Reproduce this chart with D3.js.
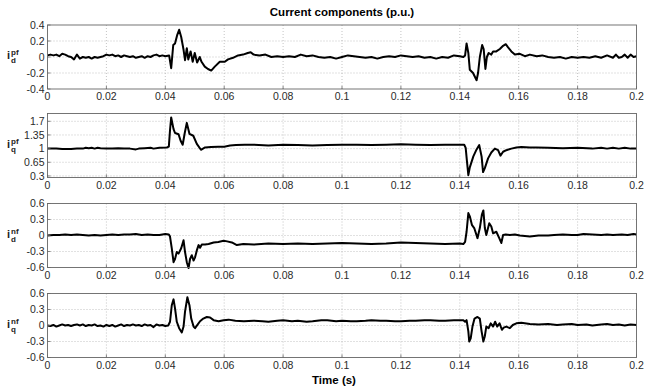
<!DOCTYPE html>
<html lang="en">
<head>
<meta charset="UTF-8">
<title>Current components (p.u.)</title>
<script src="https://d3js.org/d3.v7.min.js"></script>
<style>
  body { margin: 0; background: #fff; font-family: 'Liberation Sans', Arial, sans-serif; }
  .tick-label { font-size: 10.5px; fill: #2a2a2a; }
  .grid line { stroke: #aaa; stroke-width: 0.7; stroke-dasharray: 1,2; }
  .trace { fill: none; stroke: #000; stroke-width: 2; stroke-linejoin: round; }
</style>
</head>
<body>
<svg width="647" height="389"></svg>
<script>
  // time ticks shared by all panels
  const xTicks = [0, 0.02, 0.04, 0.06, 0.08, 0.1, 0.12, 0.14, 0.16, 0.18, 0.2];
  const xTickLabels = ["0", "0.02", "0.04", "0.06", "0.08", "0.1", "0.12", "0.14", "0.16", "0.18", "0.2"];

  // [time, value]
  const idPf = [
    [0,0.02],[0.001,0.03],[0.002,0.02],[0.003,0.03],[0.004,0.01],[0.005,0.04],[0.006,0.03],[0.007,0.01],
    [0.008,0.0],[0.009,-0.03],[0.010,0.03],[0.011,-0.02],[0.012,0.0],[0.013,-0.01],[0.014,0.0],[0.015,-0.02],
    [0.016,0.0],[0.017,-0.01],[0.018,0.0],[0.019,0.01],[0.020,0.03],[0.021,0.02],[0.022,0.03],[0.023,0.01],
    [0.024,0.02],[0.025,0.0],[0.026,0.02],[0.027,0.01],[0.028,0.0],[0.029,0.01],[0.030,-0.01],[0.031,0.0],
    [0.032,0.01],[0.033,-0.01],[0.034,0.01],[0.035,0.0],[0.036,0.02],[0.037,0.03],[0.038,0.01],[0.039,0.02],
    [0.040,0.01],[0.0413,0.02],[0.0420,-0.14],[0.0427,0.15],[0.0433,0.17],[0.044,0.27],[0.0447,0.34],
    [0.0454,0.25],[0.0462,0.09],[0.0467,-0.04],[0.0473,0.11],[0.0478,-0.03],[0.0486,0.07],[0.0493,-0.06],
    [0.050,0.05],[0.0508,-0.07],[0.0517,0.0],[0.0523,-0.06],[0.0534,-0.12],[0.0545,-0.15],[0.0556,-0.17],
    [0.0568,-0.12],[0.0585,-0.06],[0.0602,-0.06],[0.0613,-0.03],[0.063,-0.01],[0.0647,0.02],[0.0664,0.03],
    [0.068,0.05],[0.069,0.06],[0.070,0.03],[0.072,0.02],[0.074,0.03],[0.076,0.0],[0.078,0.01],[0.080,0.0],
    [0.082,0.01],[0.084,0.0],[0.086,0.03],[0.088,0.01],[0.090,0.02],[0.092,0.0],[0.094,-0.01],[0.096,0.0],
    [0.098,-0.02],[0.100,0.0],[0.102,0.02],[0.104,0.01],[0.106,0.0],[0.108,-0.01],[0.110,0.0],[0.112,-0.02],
    [0.114,0.0],[0.116,0.01],[0.118,0.0],[0.120,0.02],[0.122,0.01],[0.124,0.0],[0.126,0.01],[0.128,-0.01],
    [0.130,0.0],[0.132,-0.02],[0.134,0.0],[0.136,-0.01],[0.138,0.02],[0.140,0.01],[0.1412,0.0],[0.1418,0.02],
    [0.1423,0.17],[0.1429,0.05],[0.1434,-0.16],[0.1445,-0.2],[0.1457,-0.29],[0.1462,-0.2],[0.1468,0.0],
    [0.1476,0.15],[0.1481,0.1],[0.1487,-0.15],[0.1492,0.0],[0.1498,0.05],[0.1507,0.03],[0.1513,0.07],
    [0.1524,0.07],[0.1536,0.1],[0.1547,0.14],[0.1556,0.16],[0.1564,0.12],[0.1575,0.07],[0.1587,0.03],
    [0.1604,0.04],[0.1621,0.01],[0.1638,0.03],[0.1661,0.01],[0.168,0.02],[0.170,0.0],[0.172,-0.01],
    [0.174,0.0],[0.176,-0.02],[0.178,0.0],[0.180,-0.01],[0.182,0.0],[0.184,-0.01],[0.186,0.01],[0.188,-0.01],
    [0.190,0.02],[0.192,-0.01],[0.193,0.03],[0.194,-0.01],[0.195,0.0],[0.196,0.03],[0.197,-0.01],
    [0.198,0.03],[0.199,0.0],[0.200,0.01]
  ];

  const iqPf = [
    [0,1.0],[0.003,1.0],[0.005,0.99],[0.008,0.99],[0.010,1.0],[0.012,1.0],[0.013,1.02],[0.014,1.01],
    [0.015,1.02],[0.016,1.0],[0.017,1.02],[0.018,1.01],[0.020,1.0],[0.022,1.0],[0.024,1.01],[0.026,1.0],
    [0.028,1.0],[0.030,0.98],[0.031,1.0],[0.033,1.01],[0.035,1.02],[0.036,1.0],[0.038,1.02],[0.0405,1.03],
    [0.0412,1.05],[0.0416,1.47],[0.0420,1.80],[0.0428,1.5],[0.0433,1.4],[0.0445,1.37],[0.0452,1.2],
    [0.0459,1.1],[0.0466,1.4],[0.0473,1.66],[0.0482,1.38],[0.0495,1.33],[0.0507,1.12],[0.0521,0.97],
    [0.0535,1.03],[0.0555,1.04],[0.058,1.05],[0.060,1.05],[0.062,1.08],[0.064,1.09],[0.067,1.1],
    [0.070,1.1],[0.075,1.08],[0.080,1.1],[0.085,1.09],[0.090,1.08],[0.095,1.09],[0.100,1.1],[0.105,1.1],
    [0.110,1.09],[0.115,1.1],[0.120,1.11],[0.125,1.1],[0.130,1.09],[0.135,1.1],[0.140,1.1],[0.1415,1.1],
    [0.1420,1.02],[0.1424,0.7],[0.1429,0.32],[0.1434,0.52],[0.1446,0.8],[0.1457,0.98],[0.1466,1.09],
    [0.1474,0.8],[0.1479,0.4],[0.1485,0.5],[0.1496,0.75],[0.1507,0.9],[0.1519,1.0],[0.153,0.96],
    [0.1538,0.82],[0.1547,0.92],[0.1558,0.96],[0.1575,1.0],[0.1592,1.03],[0.1609,1.04],[0.1638,1.03],
    [0.166,1.03],[0.170,1.02],[0.175,1.01],[0.180,1.02],[0.185,1.0],[0.188,1.02],[0.190,1.0],[0.192,1.02],
    [0.194,1.0],[0.196,1.02],[0.198,1.0],[0.200,1.0]
  ];

  const idNf = [
    [0,0.0],[0.002,0.01],[0.004,0.01],[0.006,0.02],[0.008,0.01],[0.010,0.02],[0.012,0.01],[0.014,0.0],
    [0.016,0.01],[0.018,0.0],[0.020,0.01],[0.022,0.02],[0.024,0.01],[0.026,0.02],[0.028,0.02],[0.030,0.03],
    [0.032,0.01],[0.034,0.02],[0.036,0.01],[0.038,0.01],[0.040,0.03],[0.0412,0.02],[0.0416,-0.02],
    [0.0422,-0.24],[0.0428,-0.5],[0.0433,-0.44],[0.0439,-0.31],[0.0445,-0.34],[0.0454,-0.24],[0.0462,-0.09],
    [0.0467,-0.31],[0.0473,-0.5],[0.0479,-0.61],[0.0484,-0.44],[0.0490,-0.37],[0.0496,-0.47],[0.0501,-0.41],
    [0.0507,-0.28],[0.0513,-0.18],[0.0518,-0.23],[0.0524,-0.17],[0.0535,-0.17],[0.0547,-0.16],[0.0564,-0.13],
    [0.058,-0.12],[0.0598,-0.1],[0.061,-0.11],[0.0626,-0.13],[0.0643,-0.18],[0.0665,-0.16],[0.070,-0.17],
    [0.075,-0.15],[0.080,-0.16],[0.085,-0.15],[0.090,-0.16],[0.095,-0.15],[0.100,-0.14],[0.105,-0.15],
    [0.110,-0.16],[0.115,-0.15],[0.120,-0.13],[0.125,-0.14],[0.130,-0.15],[0.135,-0.16],[0.140,-0.15],
    [0.1412,-0.16],[0.1418,-0.12],[0.1423,0.07],[0.1429,0.42],[0.1434,0.36],[0.1441,0.2],[0.1449,0.14],
    [0.146,-0.05],[0.1468,0.14],[0.1475,0.39],[0.148,0.47],[0.1485,0.14],[0.149,0.01],[0.150,0.23],
    [0.1507,0.17],[0.1513,0.04],[0.1524,0.07],[0.1534,-0.05],[0.1541,-0.14],[0.1547,0.01],[0.1556,0.02],
    [0.157,0.01],[0.1587,0.02],[0.1604,0.0],[0.1638,-0.02],[0.1667,0.0],[0.170,0.0],[0.172,0.01],
    [0.175,0.02],[0.178,0.01],[0.180,0.01],[0.182,0.03],[0.185,0.02],[0.188,0.01],[0.190,0.02],
    [0.192,0.01],[0.195,0.02],[0.197,0.01],[0.199,0.03],[0.200,0.02]
  ];

  const iqNf = [
    [0,0.0],[0.001,-0.01],[0.002,0.01],[0.003,-0.02],[0.004,0.0],[0.005,0.02],[0.006,0.0],[0.007,0.01],
    [0.008,-0.01],[0.009,0.01],[0.010,0.02],[0.011,0.0],[0.012,0.02],[0.013,-0.01],[0.014,0.01],[0.015,0.0],
    [0.016,0.02],[0.017,-0.01],[0.018,0.0],[0.019,-0.02],[0.020,0.01],[0.021,-0.01],[0.022,0.01],
    [0.023,-0.02],[0.024,0.0],[0.025,0.02],[0.026,-0.01],[0.027,0.01],[0.028,0.0],[0.029,0.02],[0.030,0.0],
    [0.031,0.01],[0.032,-0.01],[0.033,0.02],[0.034,0.0],[0.035,0.01],[0.036,-0.03],[0.037,0.02],
    [0.038,0.0],[0.039,0.01],[0.040,-0.01],[0.041,0.0],[0.0416,0.07],[0.0422,0.38],[0.0428,0.49],
    [0.0433,0.32],[0.0439,0.07],[0.0447,-0.05],[0.0456,-0.13],[0.0462,-0.02],[0.0467,0.26],[0.0475,0.53],
    [0.0482,0.38],[0.0488,0.13],[0.0496,-0.02],[0.0501,-0.05],[0.0509,0.01],[0.0518,0.08],[0.0529,0.13],
    [0.0541,0.16],[0.0552,0.15],[0.0564,0.1],[0.0581,0.08],[0.0598,0.1],[0.0615,0.11],[0.0638,0.09],
    [0.0667,0.08],[0.070,0.09],[0.073,0.08],[0.075,0.07],[0.078,0.09],[0.080,0.1],[0.083,0.08],[0.085,0.09],
    [0.088,0.07],[0.090,0.08],[0.093,0.1],[0.095,0.1],[0.098,0.08],[0.100,0.09],[0.103,0.08],[0.105,0.08],
    [0.108,0.09],[0.110,0.1],[0.113,0.09],[0.115,0.09],[0.118,0.08],[0.120,0.08],[0.123,0.09],[0.125,0.09],
    [0.128,0.1],[0.130,0.1],[0.133,0.09],[0.135,0.09],[0.138,0.1],[0.1412,0.1],[0.1418,0.07],[0.1423,0.1],
    [0.1429,-0.11],[0.1432,-0.3],[0.1437,-0.24],[0.1443,-0.02],[0.145,0.13],[0.146,0.16],[0.1468,0.13],
    [0.1474,-0.11],[0.148,-0.3],[0.1485,-0.2],[0.149,-0.02],[0.1498,-0.05],[0.1505,0.04],[0.1513,-0.02],
    [0.152,0.07],[0.1527,-0.02],[0.1535,0.04],[0.1543,-0.08],[0.1549,-0.04],[0.1558,-0.02],[0.157,-0.05],
    [0.158,0.01],[0.1592,0.04],[0.1609,0.05],[0.1638,0.03],[0.1667,0.02],[0.170,0.03],[0.173,0.01],
    [0.175,0.02],[0.178,0.03],[0.180,0.01],[0.183,0.02],[0.185,0.0],[0.188,0.02],[0.190,0.03],[0.192,0.01],
    [0.194,0.02],[0.196,0.0],[0.198,0.02],[0.200,0.01]
  ];

  const panelData = [idPf, iqPf, idNf, iqNf];
  const yDomains = [[-0.4, 0.4], [0.26, 1.9], [-0.6, 0.6], [-0.6, 0.6]];
  const yTicks = [
    [-0.4, -0.2, 0, 0.2, 0.4],
    [0.3, 0.65, 1, 1.35, 1.7],
    [-0.6, -0.3, 0, 0.3, 0.6],
    [-0.6, -0.3, 0, 0.3, 0.6]
  ];
  const yTickLabels = [
    ["-0.4", "-0.2", "0", "0.2", "0.4"],
    ["0.3", "0.65", "1", "1.35", "1.7"],
    ["-0.6", "-0.3", "0", "0.3", "0.6"],
    ["-0.6", "-0.3", "0", "0.3", "0.6"]
  ];
  const ySup = ["pf", "pf", "nf", "nf"];
  const ySub = ["d", "q", "d", "q"];

  // layout
  const left = 47.5, right = 636.5, panelH = 64;
  const panelTops = [25, 113.5, 203.5, 293.5];

  const svg = d3.select("svg");

  const x = d3.scaleLinear().domain([0, 0.2]).range([left, right]);

  svg.append("text")
    .attr("x", 342).attr("y", 16)
    .attr("text-anchor", "middle")
    .style("font-size", "11.5px").style("font-weight", "bold")
    .text("Current components (p.u.)");

  panelData.forEach((data, i) => {
    const top = panelTops[i];
    const y = d3.scaleLinear().domain(yDomains[i]).range([top + panelH, top]);
    const g = svg.append("g");

    // dotted grid
    const grid = g.append("g").attr("class", "grid");
    grid.selectAll(".gx").data(xTicks.slice(1, -1)).enter().append("line")
      .attr("x1", d => x(d)).attr("x2", d => x(d))
      .attr("y1", top).attr("y2", top + panelH);
    grid.selectAll(".gy").data(yTicks[i].filter(t => y(t) > top + 1 && y(t) < top + panelH - 1)).enter().append("line")
      .attr("x1", left).attr("x2", right)
      .attr("y1", d => y(d)).attr("y2", d => y(d));

    // trace
    const line = d3.line().x(d => x(d[0])).y(d => y(d[1]));
    g.append("path").datum(data).attr("class", "trace").attr("d", line);

    // box
    g.append("rect")
      .attr("x", left).attr("y", top)
      .attr("width", right - left).attr("height", panelH)
      .attr("fill", "none").attr("stroke", "#666").attr("stroke-width", 0.9);

    // small inner tick marks
    g.selectAll(".tx").data(xTicks).enter().append("line")
      .attr("x1", d => x(d)).attr("x2", d => x(d))
      .attr("y1", top + panelH).attr("y2", top + panelH - 3)
      .attr("stroke", "#666").attr("stroke-width", 0.8);
    g.selectAll(".ty").data(yTicks[i]).enter().append("line")
      .attr("x1", left).attr("x2", left + 3)
      .attr("y1", d => y(d)).attr("y2", d => y(d))
      .attr("stroke", "#666").attr("stroke-width", 0.8);

    // x tick labels
    g.selectAll(".xl").data(xTicks).enter().append("text")
      .attr("class", "tick-label")
      .attr("x", d => x(d)).attr("y", top + panelH + 11)
      .attr("text-anchor", "middle")
      .text((d, k) => xTickLabels[k]);

    // y tick labels
    g.selectAll(".yl").data(yTicks[i]).enter().append("text")
      .attr("class", "tick-label")
      .attr("x", left - 3).attr("y", d => y(d))
      .attr("dy", "0.35em")
      .attr("text-anchor", "end")
      .text((d, k) => yTickLabels[i][k]);

    // y label: i with superscript and subscript
    const ly = top + panelH / 2;
    const lab = g.append("g").style("font-weight", "bold").style("fill", "#222");
    lab.append("text").attr("x", 7).attr("y", ly + 2).style("font-size", "11px").text("i");
    lab.append("text").attr("x", 11).attr("y", ly - 2).style("font-size", "8px").text(ySup[i]);
    lab.append("text").attr("x", 11).attr("y", ly + 6).style("font-size", "8px").text(ySub[i]);
  });

  svg.append("text")
    .attr("x", 334).attr("y", 384)
    .attr("text-anchor", "middle")
    .style("font-size", "11.5px").style("font-weight", "bold")
    .text("Time (s)");
</script>
</body>
</html>
